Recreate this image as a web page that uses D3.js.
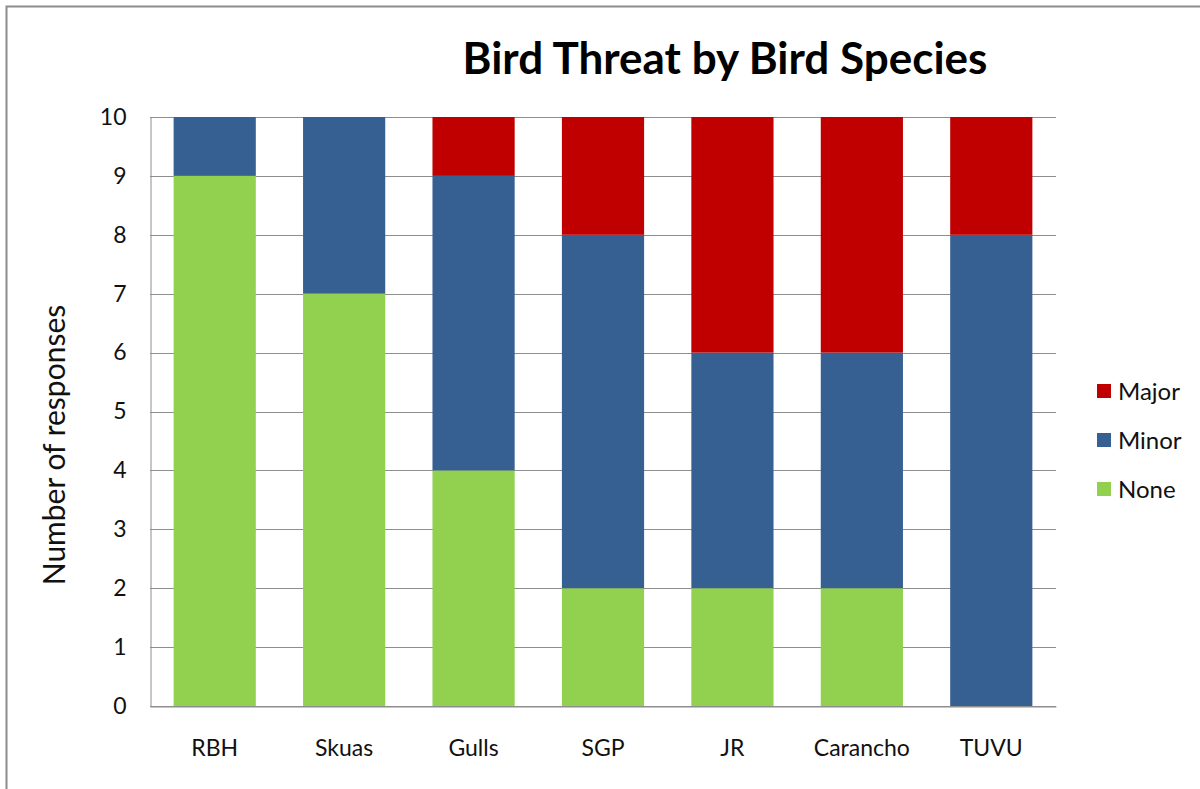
<!DOCTYPE html>
<html>
<head>
<meta charset="utf-8">
<script src="https://cdn.jsdelivr.net/npm/d3@7"></script>
<style>
  html, body { margin: 0; padding: 0; background: #fff; }
  svg { display: block; font-family: Lato, "Open Sans", "Liberation Sans", sans-serif; }
</style>
</head>
<body>
<svg id="chart" width="1200" height="789"></svg>
<script>
// Survey responses per bird species
const species = ["RBH", "Skuas", "Gulls", "SGP", "JR", "Carancho", "TUVU"];
const noneCounts  = [9, 7, 4, 2, 2, 2, 0];
const minorCounts = [1, 3, 5, 6, 4, 4, 8];
const majorCounts = [0, 0, 1, 2, 4, 4, 2];
const seriesNames = ["None", "Minor", "Major"];
const yTicks = [0, 1, 2, 3, 4, 5, 6, 7, 8, 9, 10];

const colors = { None: "#92D050", Minor: "#376092", Major: "#C00000" };

const rows = species.map((s, i) => ({
  species: s, None: noneCounts[i], Minor: minorCounts[i], Major: majorCounts[i]
}));

const svg = d3.select("#chart");

// outer chart frame
svg.append("rect")
  .attr("x", 6.5).attr("y", 6.5)
  .attr("width", 1200).attr("height", 800)
  .attr("fill", "none").attr("stroke", "#8c8c8c").attr("stroke-width", 2);

const plot = { left: 150, top: 117, right: 1056, bottom: 706 };

const x = d3.scaleBand()
  .domain(species)
  .range([plot.left, plot.right])
  .paddingInner(0.365)
  .paddingOuter(0.1825);

const y = d3.scaleLinear().domain([0, 10]).range([plot.bottom, plot.top]);

// horizontal gridlines
svg.append("g")
  .selectAll("line")
  .data(yTicks)
  .join("line")
  .attr("x1", plot.left).attr("x2", plot.right)
  .attr("y1", d => Math.round(y(d)) + 0.5).attr("y2", d => Math.round(y(d)) + 0.5)
  .attr("stroke", "#8e8e8e").attr("stroke-width", 1);

// stacked bars
const stack = d3.stack().keys(seriesNames)(rows);
svg.append("g")
  .selectAll("g")
  .data(stack)
  .join("g")
  .attr("fill", d => colors[d.key])
  .selectAll("rect")
  .data(d => d)
  .join("rect")
  .attr("x", d => x(d.data.species))
  .attr("width", x.bandwidth())
  .attr("y", d => y(d[1]))
  .attr("height", d => y(d[0]) - y(d[1]));

// y axis
const yAxis = svg.append("g")
  .attr("transform", `translate(${plot.left + 0.5},0)`)
  .call(d3.axisLeft(y).tickValues(yTicks).tickSize(0).tickPadding(24).tickFormat(d3.format("d")));
yAxis.select(".domain").attr("stroke", "#8e8e8e");
yAxis.selectAll("text").attr("font-size", 23).attr("fill", "#111")
  .attr("font-family", "Lato, 'Open Sans', sans-serif");

// x axis
const xAxis = svg.append("g")
  .attr("transform", `translate(0,${plot.bottom + 0.5})`)
  .call(d3.axisBottom(x).tickSize(0).tickPadding(33));
xAxis.select(".domain").attr("stroke", "#8e8e8e");
xAxis.selectAll("text").attr("font-size", 23).attr("fill", "#111")
  .attr("font-family", "Lato, 'Open Sans', sans-serif");

// axis title
svg.append("text")
  .attr("transform", `translate(65,445) rotate(-90)`)
  .attr("text-anchor", "middle")
  .attr("font-size", 30).attr("fill", "#111")
  .text("Number of responses");

// chart title
svg.append("text")
  .attr("x", 725).attr("y", 74)
  .attr("text-anchor", "middle")
  .attr("font-size", 44).attr("font-weight", "bold").attr("fill", "#000")
  .text("Bird Threat by Bird Species");

// legend
const legendOrder = ["Major", "Minor", "None"];
const legend = svg.append("g")
  .selectAll("g")
  .data(legendOrder)
  .join("g")
  .attr("transform", (d, i) => `translate(1097,${391 + i * 49})`);
legend.append("rect")
  .attr("x", 0).attr("y", -7).attr("width", 14).attr("height", 14)
  .attr("fill", d => colors[d]);
legend.append("text")
  .attr("x", 21).attr("y", 0).attr("dy", "0.36em")
  .attr("font-size", 24).attr("fill", "#111")
  .text(d => d);
</script>
</body>
</html>
